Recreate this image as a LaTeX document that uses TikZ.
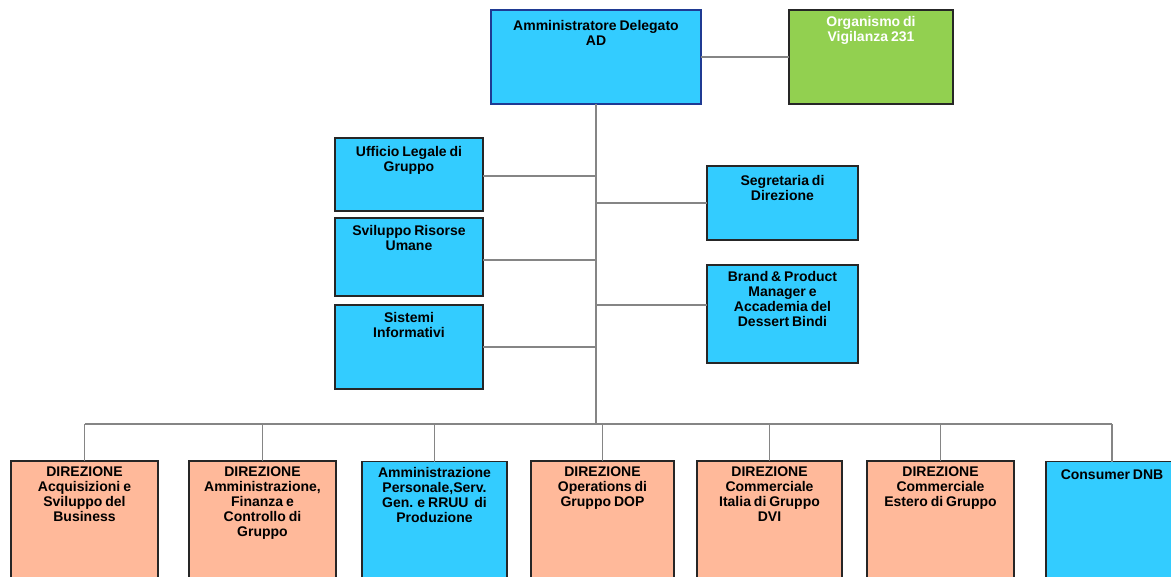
\documentclass[tikz,border=0pt]{standalone}
\usepackage{fontspec}
\setmainfont{Liberation Sans}[WordSpace=0.75]
\usetikzlibrary{positioning,calc}

\definecolor{cyanbox}{HTML}{33CCFF}
\definecolor{greenbox}{HTML}{92D050}
\definecolor{salmonbox}{HTML}{FFB99A}
\definecolor{adborder}{HTML}{1F3A93}
\definecolor{linkgray}{HTML}{858585}

\tikzset{
  unit/.style={draw=black!85, line width=1.5pt, inner sep=0pt, outer sep=0pt},
  staff/.style={unit, fill=cyanbox},
  board/.style={unit, fill=greenbox},
  direz/.style={unit, fill=salmonbox},
  unitlabel/.style={anchor=north, align=center, inner sep=0pt,
    font=\fontsize{14}{15}\selectfont\bfseries},
  link/.style={draw=linkgray, line width=1.6pt},
}

\begin{document}
\begin{tikzpicture}[x=1pt,y=-1pt]
  \useasboundingbox (0,0) rectangle (1171,577);
  \clip (0,0) rectangle (1171,577);
  \coordinate (bus) at (596,424);

  % top
  \node[staff, draw=adborder, minimum width=210, minimum height=94] (ad) at (596,57) {};
  \node[board, minimum width=164, minimum height=94] (odv) at (871,57) {};

  % staff on the left and right of the trunk
  \node[staff, minimum width=148, minimum height=73] (ufficio)    at (409,174.5) {};
  \node[staff, minimum width=148, minimum height=78] (sviluppo)   at (409,257)   {};
  \node[staff, minimum width=148, minimum height=84] (sistemi)    at (409,347)   {};
  \node[staff, minimum width=151, minimum height=74] (segretaria) at (782.5,203) {};
  \node[staff, minimum width=151, minimum height=98] (brand)      at (782.5,314) {};

  % direzioni
  \begin{scope}[every node/.append style={minimum height=139}]
    \node[direz, minimum width=147] (dir-acq)   at (84.5,530.5)  {};
    \node[direz, minimum width=147] (dir-afc)   at (262.5,530.5) {};
    \node[staff, minimum width=145] (amm-pers)  at (434.5,531)   {};
    \node[direz, minimum width=143] (dir-dop)   at (602.5,530.5) {};
    \node[direz, minimum width=145] (dir-dvi)   at (769.5,530.5) {};
    \node[direz, minimum width=147] (dir-estero) at (940.5,530.5) {};
    \node[staff, minimum width=132] (consumer)  at (1112,531)    {};
  \end{scope}

  \node[unitlabel] (ad-label) at ($(ad.north)+(0,10)$) {Amministratore Delegato\\AD};
  \node[unitlabel, text=white] (odv-label) at ($(odv.north)+(0,6)$) {Organismo di\\Vigilanza 231};
  \node[unitlabel] (ufficio-label)    at ($(ufficio.north)+(0,8)$)    {Ufficio Legale di\\Gruppo};
  \node[unitlabel] (sviluppo-label)   at ($(sviluppo.north)+(0,7)$)   {Sviluppo Risorse\\Umane};
  \node[unitlabel] (sistemi-label)    at ($(sistemi.north)+(0,7)$)    {Sistemi\\Informativi};
  \node[unitlabel] (segretaria-label) at ($(segretaria.north)+(0,9)$) {Segretaria di\\Direzione};
  \node[unitlabel] (brand-label)      at ($(brand.north)+(0,6)$)      {Brand \& Product\\Manager e\\Accademia del\\Dessert Bindi};
  \node[unitlabel] (dir-acq-label)    at ($(dir-acq.north)+(0,6)$)    {DIREZIONE\\Acquisizioni e\\Sviluppo del\\Business};
  \node[unitlabel] (dir-afc-label)    at ($(dir-afc.north)+(0,6)$)    {DIREZIONE\\Amministrazione,\\Finanza e\\Controllo di\\Gruppo};
  \node[unitlabel] (amm-pers-label)   at ($(amm-pers.north)+(0,6)$)   {Amministrazione\\Personale,Serv.\\Gen. e RRUU~~di\\Produzione};
  \node[unitlabel] (dir-dop-label)    at ($(dir-dop.north)+(0,6)$)    {DIREZIONE\\Operations di\\Gruppo DOP};
  \node[unitlabel] (dir-dvi-label)    at ($(dir-dvi.north)+(0,6)$)    {DIREZIONE\\Commerciale\\Italia di Gruppo\\DVI};
  \node[unitlabel] (dir-estero-label) at ($(dir-estero.north)+(0,6)$) {DIREZIONE\\Commerciale\\Estero di Gruppo};
  \node[unitlabel] (consumer-label)   at ($(consumer.north)+(0,8)$)   {Consumer DNB};

  \coordinate (ufficio-link) at ($(ufficio.east)+(0,1.5)$);
  \coordinate (sviluppo-link) at ($(sviluppo.east)+(0,3)$);
  \coordinate (brand-link) at ($(brand.west)+(0,-9)$);
  \path[link]
    (ad.east)            -- (odv.west)
    (ad.south)           -- (ad.south |- bus)
    (ufficio-link)       -- (ufficio-link -| ad.south)
    (sviluppo-link)      -- (sviluppo-link -| ad.south)
    (sistemi.east)       -- (sistemi.east -| ad.south)
    (segretaria.west)    -- (segretaria.west -| ad.south)
    (brand-link)         -- (brand-link -| ad.south)
    (dir-acq.north |- bus) -- (consumer.north |- bus)
    (dir-acq.north)      -- (dir-acq.north |- bus)
    (dir-afc.north)      -- (dir-afc.north |- bus)
    (amm-pers.north)     -- (amm-pers.north |- bus)
    (dir-dop.north)      -- (dir-dop.north |- bus)
    (dir-dvi.north)      -- (dir-dvi.north |- bus)
    (dir-estero.north)   -- (dir-estero.north |- bus)
    (consumer.north)     -- (consumer.north |- bus);
\end{tikzpicture}
\end{document}
